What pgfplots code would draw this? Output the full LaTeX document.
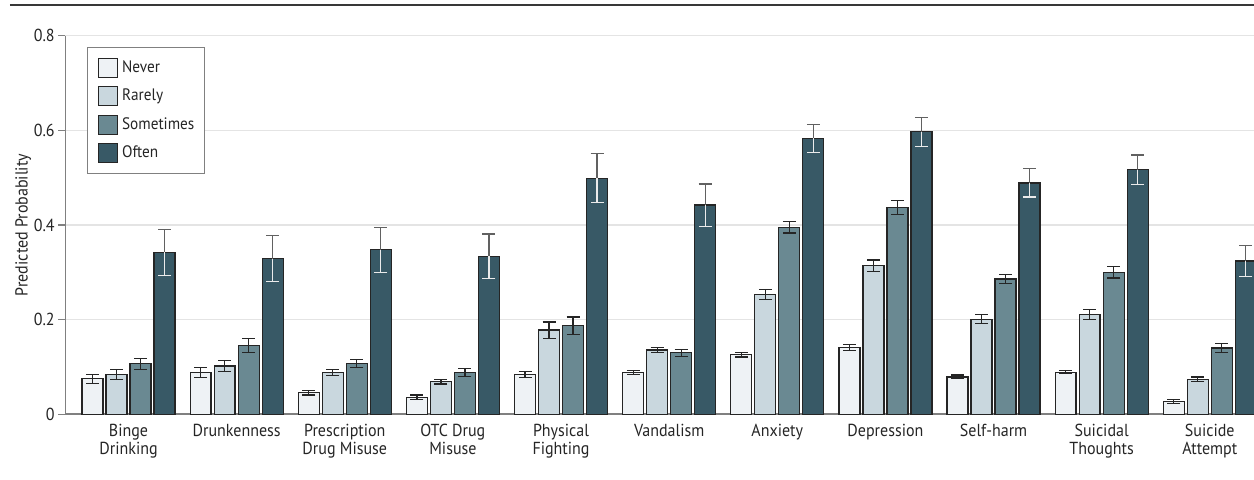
\documentclass[border=0pt]{standalone}
\usepackage{pgfplots}
\pgfplotsset{compat=1.18}
\usepackage{fontspec}
\setmainfont{PT Sans}[FakeStretch=0.92]
\definecolor{cNever}{HTML}{EEF2F5}
\definecolor{cRarely}{HTML}{C9D7DE}
\definecolor{cSome}{HTML}{6A8992}
\definecolor{cOften}{HTML}{385966}
\definecolor{cEdge}{HTML}{252525}
\definecolor{cGrid}{HTML}{E4E4E4}
\definecolor{cAxis}{HTML}{808080}
\definecolor{cText}{HTML}{252525}
\newcommand{\lblfont}{\fontsize{8.7pt}{9.2pt}\selectfont}
\newcommand{\legfont}{\fontsize{8.3pt}{9pt}\selectfont}
\pgfplotsset{
  mybar/.style={ybar, bar width=0.194, bar shift=0pt, draw=cEdge, line width=0.65pt,
    legend image code/.code={\draw[##1, line width=0.55pt] (0pt,-4.75pt) rectangle (9.5pt,4.75pt);}},
  myerr/.style={error bars/.cd, y dir=both, y explicit,
    error bar style={draw=#1, line width=0.6pt},
    error mark options={draw=#1, line width=0.6pt, mark size=3.25pt, rotate=90}},
}
\begin{document}
\begin{tikzpicture}
\useasboundingbox (-32.75pt,-32.35pt) rectangle (594.25pt,207.15pt);
\begin{axis}[
  at={(0pt,0pt)}, anchor=south west,
  scale only axis, width=594.25pt, height=189.3pt,
  xmin=-0.583, xmax=10.409, ymin=0, ymax=0.8,
  axis x line*=bottom, axis y line*=left,
  axis line style={-},
  x axis line style={draw=cAxis, line width=1pt},
  y axis line style={draw=cAxis, line width=0.75pt},
  ymajorgrids, grid style={draw=cGrid, line width=0.7pt},
  tick align=outside, major tick length=3.5pt,
  ytick={0,0.2,0.4,0.6,0.8}, yticklabels={0,0.2,0.4,0.6,0.8},
  ytick style={draw=cAxis, line width=0.75pt},
  xtick={0,1,2,3,4,5,6,7,8,9,10},
  xticklabels={{Binge\\Drinking},Drunkenness,{Prescription\\Drug Misuse},{OTC Drug\\Misuse},{Physical\\Fighting},Vandalism,Anxiety,Depression,Self-harm,{Suicidal\\Thoughts},{Suicide\\Attempt}},
  xtick style={draw=none},
  /pgf/number format/assume math mode=true,
  ticklabel style={font=\lblfont, text=cText},
  xticklabel style={align=center, anchor=north, inner sep=0pt, yshift=-1.1pt},
  yticklabel style={anchor=east, inner sep=0pt, xshift=-1.7pt},
  ylabel={Predicted Probability},
  ylabel style={at={(axis description cs:-0.0355,0.5)}, anchor=center, font=\lblfont, text=cText},
  legend style={at={(axis description cs:0,1)}, anchor=north west, xshift=10.75pt, yshift=-5.65pt,
    draw=cAxis, line width=0.6pt, inner xsep=5pt, inner ysep=5pt, row sep=4.2pt, column sep=2.2pt,
    font=\legfont, text=cText, cells={anchor=west}, nodes={inner sep=0pt}},
]
% Never
\addplot[mybar, fill=cNever, myerr=cEdge] coordinates {
 (-0.333,0.075) +- (0,0.0095) (0.667,0.088) +- (0,0.011) (1.667,0.046) +- (0,0.005) (2.667,0.036) +- (0,0.005)
 (3.667,0.084) +- (0,0.007) (4.667,0.088) +- (0,0.0045) (5.667,0.126) +- (0,0.005) (6.667,0.141) +- (0,0.007)
 (7.667,0.079) +- (0,0.004) (8.667,0.089) +- (0,0.0035) (9.667,0.027) +- (0,0.0045)};
\addlegendentry{Never}
% Rarely
\addplot[mybar, fill=cRarely, myerr=cEdge] coordinates {
 (-0.111,0.084) +- (0,0.010) (0.889,0.102) +- (0,0.0115) (1.889,0.088) +- (0,0.006) (2.889,0.069) +- (0,0.005)
 (3.889,0.178) +- (0,0.017) (4.889,0.136) +- (0,0.005) (5.889,0.253) +- (0,0.010) (6.889,0.314) +- (0,0.012)
 (7.889,0.201) +- (0,0.0095) (8.889,0.211) +- (0,0.011) (9.889,0.074) +- (0,0.005)};
\addlegendentry{Rarely}
% Sometimes
\addplot[mybar, fill=cSome, myerr=cEdge] coordinates {
 (0.111,0.107) +- (0,0.0115) (1.111,0.145) +- (0,0.0145) (2.111,0.107) +- (0,0.0085) (3.111,0.088) +- (0,0.0085)
 (4.111,0.187) +- (0,0.0185) (5.111,0.130) +- (0,0.0075) (6.111,0.395) +- (0,0.012) (7.111,0.437) +- (0,0.0145)
 (8.111,0.286) +- (0,0.0095) (9.111,0.300) +- (0,0.012) (10.111,0.140) +- (0,0.009)};
\addlegendentry{Sometimes}
% Often (bars + upper error)
\addplot[mybar, fill=cOften, error bars/.cd, y dir=plus, y explicit,
    error bar style={draw=black!62, line width=0.6pt},
    error mark options={draw=black!62, line width=0.6pt, mark size=3.25pt, rotate=90}] coordinates {
 (0.333,0.342) +- (0,0.049) (1.333,0.329) +- (0,0.0485) (2.333,0.348) +- (0,0.0475) (3.333,0.334) +- (0,0.047)
 (4.333,0.499) +- (0,0.0515) (5.333,0.442) +- (0,0.0445) (6.333,0.583) +- (0,0.030) (7.333,0.597) +- (0,0.031)
 (8.333,0.489) +- (0,0.030) (9.333,0.517) +- (0,0.031) (10.333,0.324) +- (0,0.033)};
\addlegendentry{Often}
% Often lower error (light, inside bar)
\addplot[ybar, bar width=0.194, bar shift=0pt, draw=none, fill=none, forget plot,
    error bars/.cd, y dir=minus, y explicit,
    error bar style={draw=black!8, line width=0.6pt},
    error mark options={draw=black!8, line width=0.6pt, mark size=3.25pt, rotate=90}] coordinates {
 (0.333,0.342) +- (0,0.049) (1.333,0.329) +- (0,0.0485) (2.333,0.348) +- (0,0.0475) (3.333,0.334) +- (0,0.047)
 (4.333,0.499) +- (0,0.0515) (5.333,0.442) +- (0,0.0445) (6.333,0.583) +- (0,0.030) (7.333,0.597) +- (0,0.031)
 (8.333,0.489) +- (0,0.030) (9.333,0.517) +- (0,0.031) (10.333,0.324) +- (0,0.033)};
\end{axis}
\draw[line width=1pt, draw=black!78] (-27.75pt,204.65pt) -- (594.25pt,204.65pt);
\end{tikzpicture}
\end{document}
